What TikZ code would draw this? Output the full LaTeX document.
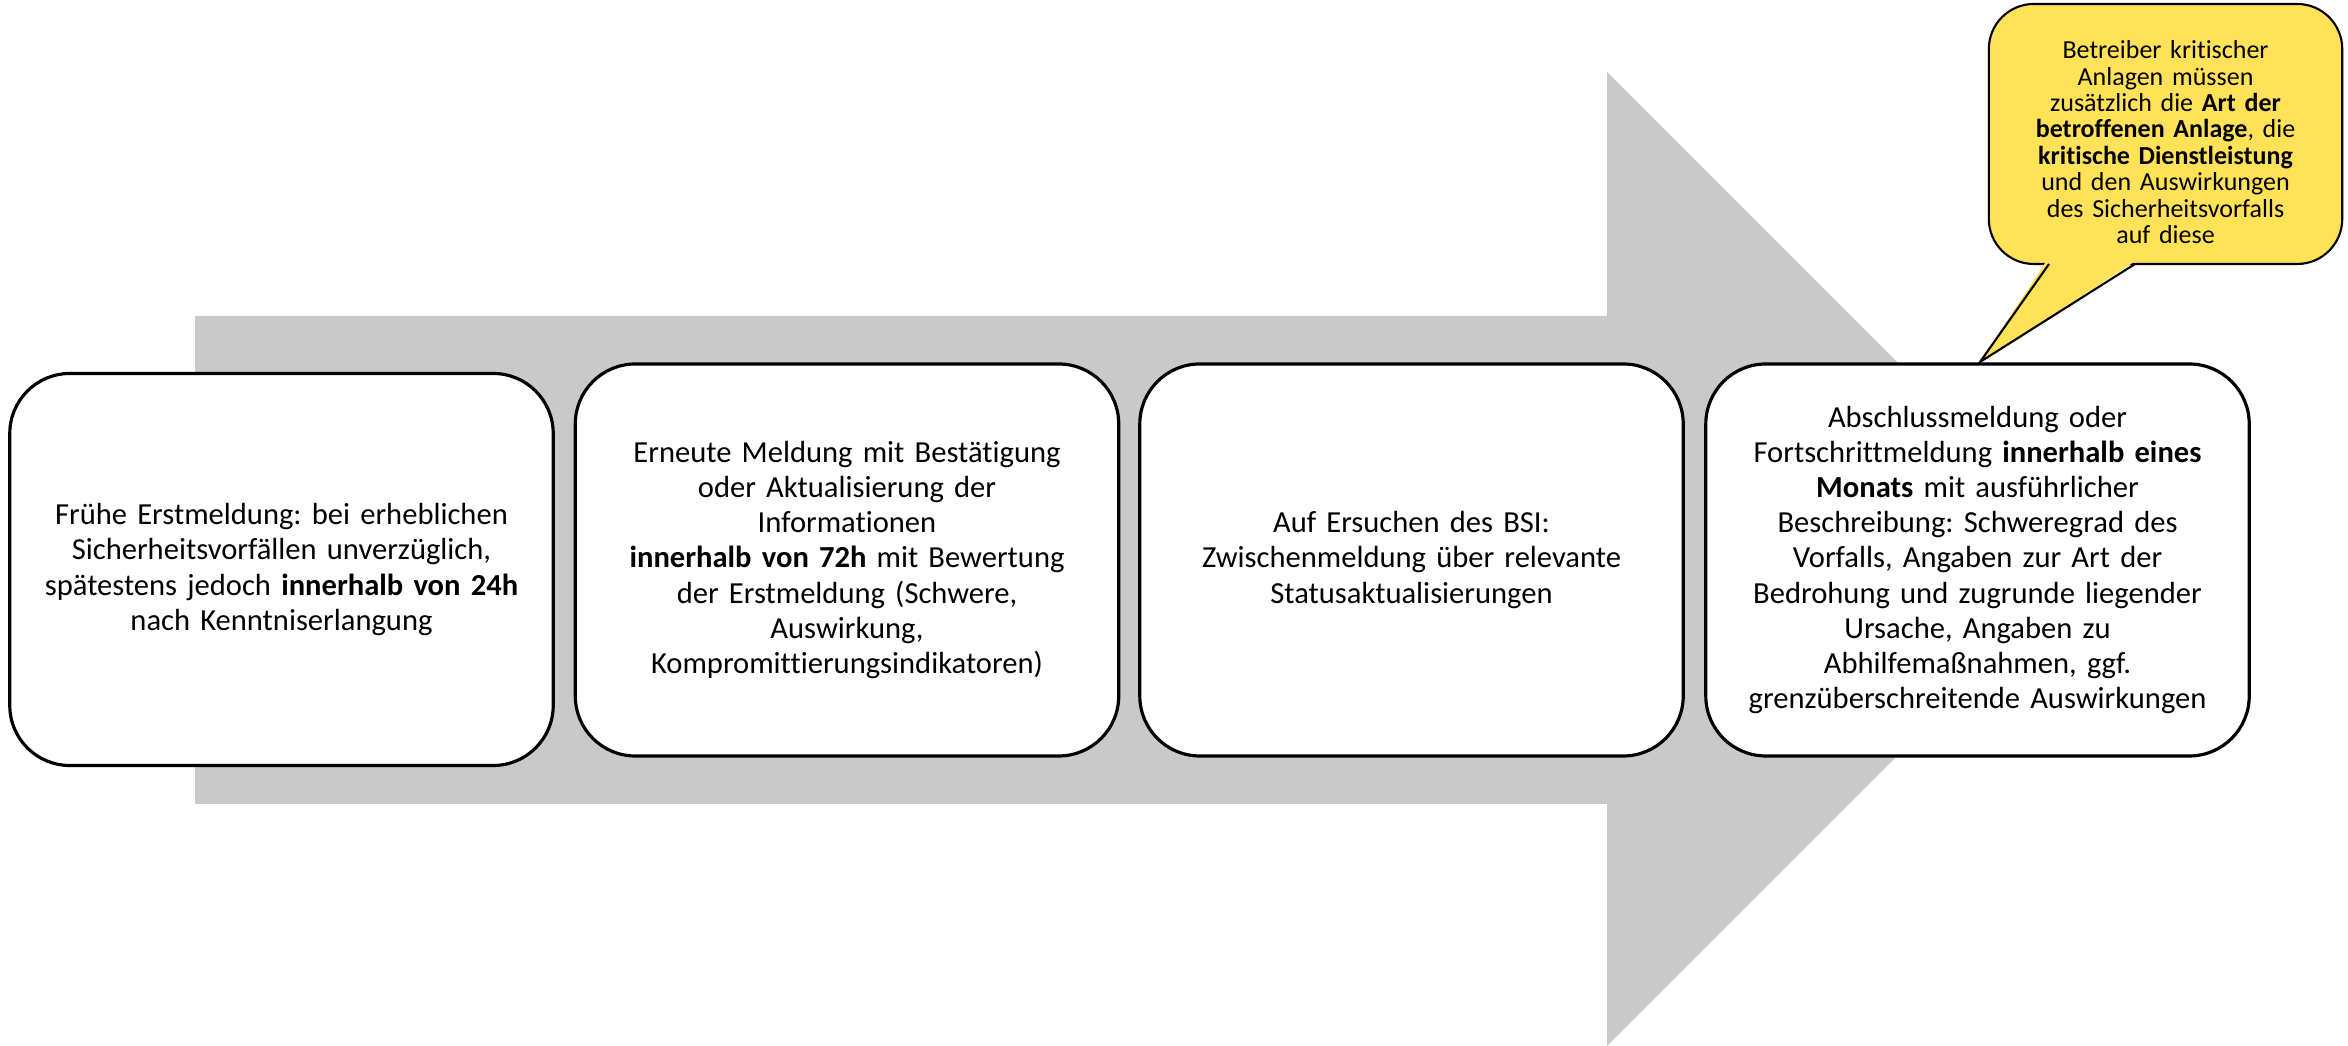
\documentclass[tikz,border=0pt]{standalone}
\usepackage{fontspec}
\setmainfont{Carlito}[Ligatures=NoCommon]
\frenchspacing
\definecolor{arrowgray}{RGB}{201,201,201}
\definecolor{noteyellow}{RGB}{255,226,87}
\begin{document}
\begin{tikzpicture}[
  stage/.style={draw=black, line width=0.9pt, fill=white, rounded corners=0.6cm,
    minimum width=5.37cm, minimum height=3.92cm, text width=5.2cm, align=center,
    font=\fontsize{8.7}{10}\selectfont},
  bubble/.style={draw=black, line width=0.6pt, fill=noteyellow, rounded corners=0.45cm,
    minimum width=3.49cm, minimum height=2.6cm, text width=3.3cm, align=center,
    font=\fontsize{7.4}{7.5}\selectfont}
]
\useasboundingbox (0,0) rectangle (23.48,10.46);

% Background arrow
\fill[arrowgray] (1.95,2.42) -- (1.95,7.30) -- (16.07,7.30) -- (16.07,9.74)
  -- (20.94,4.87) -- (16.07,0) -- (16.07,2.42) -- cycle;

% Reporting stages
\node[stage] (early) at (2.815,4.765) {Frühe Erstmeldung: bei erheblichen\\
  Sicherheitsvorfällen unverzüglich,\\
  spätestens jedoch \textbf{innerhalb von 24h}\\
  nach Kenntniserlangung};
\node[stage] (update) at (8.47,4.86) {Erneute Meldung mit Bestätigung\\
  oder Aktualisierung der\\
  Informationen\\
  \textbf{innerhalb von 72h} mit Bewertung\\
  der Erstmeldung (Schwere,\\
  Auswirkung,\\
  Kompromittierungsindikatoren)};
\node[stage] (interim) at (14.115,4.86) {Auf Ersuchen des BSI:\\
  Zwischenmeldung über relevante\\
  Statusaktualisierungen};
\node[stage] (final) at (19.775,4.86) {Abschlussmeldung oder\\
  Fortschrittmeldung \textbf{innerhalb eines}\\
  \textbf{Monats} mit ausführlicher\\
  Beschreibung: Schweregrad des\\
  Vorfalls, Angaben zur Art der\\
  Bedrohung und zugrunde liegender\\
  Ursache, Angaben zu\\
  Abhilfemaßnahmen, ggf.\\
  grenzüberschreitende Auswirkungen};

% Callout for operators of critical facilities
\node[bubble] (note) at (21.655,9.12) {\rule{0pt}{9.8pt}Betreiber kritischer\\
  Anlagen müssen\\
  zusätzlich die \textbf{Art der}\\
  \textbf{betroffenen Anlage}, die\\
  \textbf{kritische Dienstleistung}\\
  und den Auswirkungen\\
  des Sicherheitsvorfalls\\
  auf diese};
\coordinate (tip) at (19.80,6.84);
\fill[noteyellow] (20.47,7.86) -- (tip) -- (21.37,7.86) -- cycle;
\draw[line width=0.6pt, line join=miter] (20.49,7.82) -- (tip) -- (21.35,7.82);
\end{tikzpicture}
\end{document}
